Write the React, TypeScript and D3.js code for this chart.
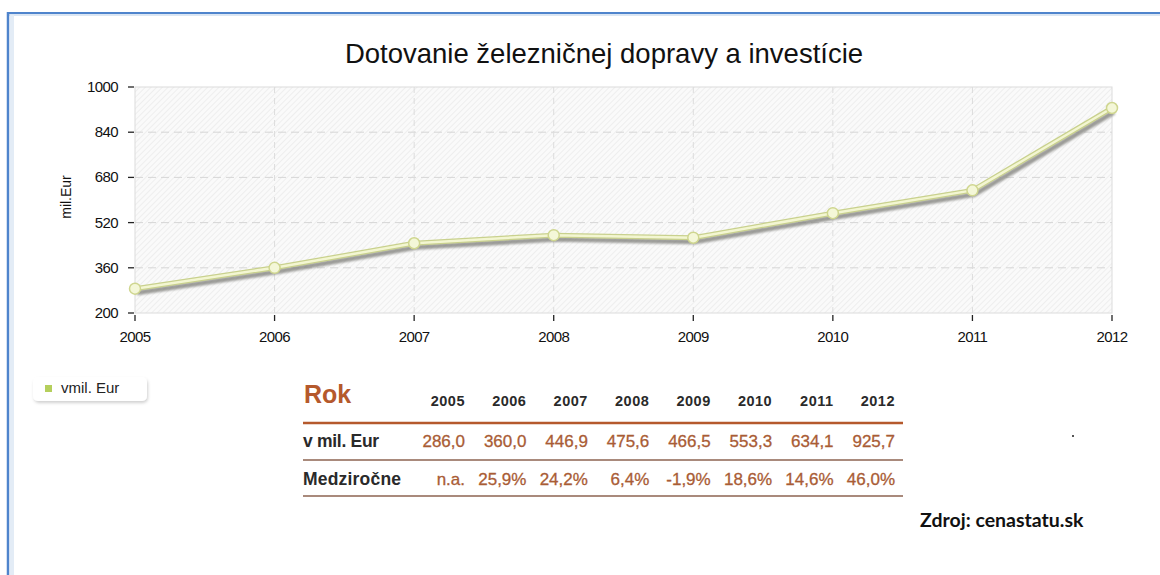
import React from "react";
import * as d3 from "d3";

const years = ["2005", "2006", "2007", "2008", "2009", "2010", "2011", "2012"];
const values = [286.0, 360.0, 446.9, 475.6, 466.5, 553.3, 634.1, 925.7];
const valueLabels = ["286,0", "360,0", "446,9", "475,6", "466,5", "553,3", "634,1", "925,7"];
const yoyLabels = ["n.a.", "25,9%", "24,2%", "6,4%", "-1,9%", "18,6%", "14,6%", "46,0%"];
const yTicks = [200, 360, 520, 680, 840, 1000];

const W = 1160;
const H = 575;
const PL = 135, PR = 1112, PT = 87, PB = 313;

export default function App() {
  const x = d3.scalePoint<string>().domain(years).range([PL, PR]);
  const y = d3.scaleLinear().domain([200, 1000]).range([PB, PT]);
  const pts: [number, number][] = years.map((yr, i) => [x(yr)!, y(values[i])]);
  const line = d3.line<[number, number]>().x(d => d[0]).y(d => d[1]);
  const path = line(pts) || "";
  const tx = d3.scalePoint<string>().domain(years).range([465, 895]);
  const font = "Arial, 'Liberation Sans', sans-serif";

  return (
    <svg width={W} height={H} style={{ position: "absolute", left: 0, top: 0, background: "#fff" }} fontFamily={font}>
      <defs>
        <pattern id="hatch" width="4" height="4" patternUnits="userSpaceOnUse" patternTransform="rotate(45)">
          <rect width="4" height="4" fill="#fafafa" />
          <line x1="0" y1="0" x2="0" y2="4" stroke="#e6e6e6" strokeWidth="1.2" />
        </pattern>
        <filter id="lgshadow" x="-20%" y="-40%" width="140%" height="200%">
          <feDropShadow dx="1" dy="2" stdDeviation="1.5" floodColor="#000" floodOpacity="0.18" />
        </filter>
        <filter id="blur1"><feGaussianBlur stdDeviation="0.8" /></filter>
      </defs>

      {/* outer frame */}
      <rect x={8} y={12} width={W} height={H} fill="#fff" />
      <line x1={8} y1={13} x2={W} y2={13} stroke="#4f84cc" strokeWidth={2} />
      <line x1={8} y1={15} x2={W} y2={15} stroke="#dbe6f3" strokeWidth={2} />
      <line x1={8} y1={12} x2={8} y2={H} stroke="#4f84cc" strokeWidth={2.5} />
      <rect x={10} y={15} width={4} height={H} fill="#e3ecf6" />

      {/* title */}
      <text x={604} y={63} textAnchor="middle" fontSize={27.5} fill="#111">Dotovanie železničnej dopravy a investície</text>

      {/* plot background */}
      <rect x={PL} y={PT} width={PR - PL} height={PB - PT} fill="url(#hatch)" stroke="#dcdcdc" strokeWidth={1} />

      {/* grid */}
      {yTicks.filter(t => t !== 200 && t !== 1000).map(t => (
        <line key={"gy" + t} x1={PL} x2={PR} y1={y(t)} y2={y(t)} stroke="#d6d6d6" strokeDasharray="8,5" strokeWidth={1} />
      ))}
      {years.slice(1, -1).map(yr => (
        <line key={"gx" + yr} x1={x(yr)} x2={x(yr)} y1={PT} y2={PB} stroke="#dcdcdc" strokeDasharray="6,5" strokeWidth={1} />
      ))}

      {/* y axis ticks */}
      {yTicks.map(t => (
        <g key={"yt" + t}>
          <line x1={128} x2={134} y1={y(t)} y2={y(t)} stroke="#222" strokeWidth={1.3} />
          <text x={118} y={y(t) + 5} textAnchor="end" fontSize={15} fill="#111" letterSpacing={-0.6}>{t}</text>
        </g>
      ))}
      {/* x axis ticks */}
      {years.map(yr => (
        <g key={"xt" + yr}>
          <line x1={x(yr)} x2={x(yr)} y1={PB + 2} y2={PB + 8} stroke="#222" strokeWidth={1.3} />
          <text x={x(yr)} y={342} textAnchor="middle" fontSize={15} fill="#111" letterSpacing={-0.6}>{yr}</text>
        </g>
      ))}
      <text transform={`translate(71,197) rotate(-90)`} textAnchor="middle" fontSize={14} fill="#111">mil.Eur</text>

      {/* series */}
      <path d={path} transform="translate(2,4)" fill="none" stroke="#7d7d78" strokeWidth={5} opacity={0.75} filter="url(#blur1)" />
      <path d={path} fill="none" stroke="#c9d18e" strokeWidth={5} strokeLinejoin="round" />
      <path d={path} fill="none" stroke="#f3f6d2" strokeWidth={2.5} strokeLinejoin="round" />
      {pts.map((p, i) => (
        <circle key={"pt" + i} cx={p[0]} cy={p[1]} r={5.5} fill="#f4f7d8" stroke="#cfd68f" strokeWidth={1.5} />
      ))}

      {/* legend */}
      <rect x={33} y={377} width={114} height={24} rx={5} fill="#fff" filter="url(#lgshadow)" />
      <rect x={45} y={385} width={7} height={7} fill="#b5cf5c" />
      <text x={61} y={393} fontSize={15} fill="#222">vmil. Eur</text>

      {/* table */}
      <text x={304} y={403} fontSize={25} fontWeight="bold" fill="#b5592c">Rok</text>
      {years.map(yr => (
        <text key={"th" + yr} x={tx(yr)} y={406} textAnchor="end" fontSize={14.5} fontWeight="bold" fill="#2a2a2a" letterSpacing={0.5}>{yr}</text>
      ))}
      <line x1={303} x2={903} y1={423} y2={423} stroke="#b5592c" strokeWidth={2.5} />
      <text x={303} y={447} fontSize={17.5} fontWeight="bold" fill="#2a2a2a" letterSpacing={-0.3}>v mil. Eur</text>
      {years.map((yr, i) => (
        <text key={"tv" + yr} x={tx(yr)} y={447} textAnchor="end" fontSize={17} fill="#a95c35" stroke="#a95c35" strokeWidth={0.3}>{valueLabels[i]}</text>
      ))}
      <line x1={303} x2={903} y1={460} y2={460} stroke="#8c6350" strokeWidth={1.5} />
      <text x={303} y={485} fontSize={17.5} fontWeight="bold" fill="#2a2a2a" letterSpacing={0.2}>Medziročne</text>
      {years.map((yr, i) => (
        <text key={"ty" + yr} x={tx(yr)} y={485} textAnchor="end" fontSize={17} fill="#a95c35" stroke="#a95c35" strokeWidth={0.3}>{yoyLabels[i]}</text>
      ))}
      <line x1={303} x2={903} y1={496} y2={496} stroke="#8c6350" strokeWidth={1.5} />

      <text x={920} y={527} fontSize={19.5} fontWeight="bold" fill="#111" fontFamily="Lato, 'Open Sans', sans-serif">Zdroj: cenastatu.sk</text>
      <rect x={1072} y={435} width={2} height={2} fill="#555" />
    </svg>
  );
}
